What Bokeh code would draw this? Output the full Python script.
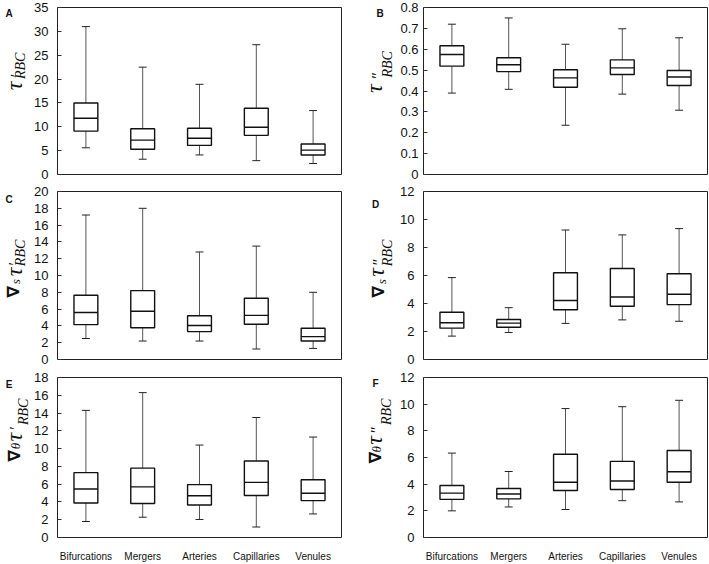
import math
from bokeh.plotting import figure
from bokeh.models import (Range1d, FactorRange, FixedTicker, Label,
                          CustomJSTickFormatter, ColumnDataSource)
from bokeh.layouts import gridplot
from bokeh.transform import dodge
from bokeh.embed import file_html
from bokeh.resources import INLINE

categories = ["Bifurcations", "Mergers", "Arteries", "Capillaries", "Venules"]

# Panel A: tau'_RBC
a_min = [5.6, 3.2, 4.1, 2.9, 2.3]
a_q1 = [9.1, 5.3, 6.1, 8.2, 4.1]
a_med = [11.8, 7.2, 7.6, 9.9, 5.1]
a_q3 = [15.0, 9.6, 9.7, 13.9, 6.4]
a_max = [31.0, 22.5, 18.9, 27.2, 13.4]
a_ticks = [0, 5, 10, 15, 20, 25, 30, 35]

# Panel B: tau''_RBC
b_min = [0.39, 0.408, 0.236, 0.385, 0.308]
b_q1 = [0.519, 0.493, 0.418, 0.479, 0.426]
b_med = [0.575, 0.526, 0.463, 0.511, 0.467]
b_q3 = [0.617, 0.559, 0.502, 0.549, 0.498]
b_max = [0.72, 0.75, 0.624, 0.698, 0.655]
b_ticks = [0, 0.1, 0.2, 0.3, 0.4, 0.5, 0.6, 0.7, 0.8]

# Panel C: grad_s tau'_RBC
c_min = [2.5, 2.2, 2.2, 1.25, 1.32]
c_q1 = [4.15, 3.78, 3.32, 4.2, 2.2]
c_med = [5.6, 5.75, 4.05, 5.25, 2.72]
c_q3 = [7.65, 8.2, 5.2, 7.3, 3.72]
c_max = [17.2, 18.0, 12.8, 13.5, 8.0]
c_ticks = [0, 2, 4, 6, 8, 10, 12, 14, 16, 18, 20]

# Panel D: grad_s tau''_RBC
d_min = [1.67, 1.93, 2.58, 2.83, 2.73]
d_q1 = [2.24, 2.3, 3.55, 3.8, 3.92]
d_med = [2.62, 2.6, 4.21, 4.46, 4.66]
d_q3 = [3.38, 2.86, 6.2, 6.5, 6.12]
d_max = [5.85, 3.7, 9.25, 8.9, 9.35]
d_ticks = [0, 2, 4, 6, 8, 10, 12]

# Panel E: grad_theta tau'_RBC
e_min = [1.8, 2.28, 2.03, 1.18, 2.65]
e_q1 = [3.88, 3.82, 3.66, 4.72, 4.15]
e_med = [5.45, 5.7, 4.7, 6.2, 4.98]
e_q3 = [7.3, 7.8, 5.95, 8.6, 6.5]
e_max = [14.3, 16.3, 10.4, 13.5, 11.3]
e_ticks = [0, 2, 4, 6, 8, 10, 12, 14, 16, 18]

# Panel F: grad_theta tau''_RBC
f_min = [2.0, 2.29, 2.1, 2.76, 2.67]
f_q1 = [2.86, 2.9, 3.52, 3.6, 4.14]
f_med = [3.33, 3.26, 4.14, 4.24, 4.93]
f_q3 = [3.9, 3.67, 6.24, 5.71, 6.52]
f_max = [6.33, 4.95, 9.67, 9.81, 10.29]
f_ticks = [0, 2, 4, 6, 8, 10, 12]

SERIF = "Liberation Serif"
SANS = "Liberation Sans"
NABLA_FONT = "DejaVu Sans"

# layout (page pixels)
LAB_COLS = [dict(width=31, x0=0), dict(width=39, x0=358)]
MAIN_COLS = [dict(width=327, min_border_left=24, min_border_right=17),
             dict(width=312, min_border_left=25, min_border_right=2)]
ROWS = [
    dict(height=182, y0=0, min_border_top=7, min_border_bottom=8),
    dict(height=186, y0=182, min_border_top=9, min_border_bottom=9),
    dict(height=196, y0=368, min_border_top=9, min_border_bottom=21),
]

# rotated y-label pieces: ((text, font, size, style), page_x of middle, page_y of centre)
TAU = ("τ", SERIF, 24, "italic")
RBC = ("RBC", SERIF, 14, "italic")
P1 = ("′", SERIF, 16, "normal")
P2 = ("″", SERIF, 16, "normal")
NAB = ("∇", NABLA_FONT, 17, "bold")
SUB_S = ("s", SERIF, 13, "italic")
SUB_T = ("θ", SERIF, 13, "italic")

LBL_A = [(TAU, 13.4, 85.5), (P1, 15.7, 74), (RBC, 20, 63.5)]
LBL_B = [(TAU, 373.4, 88.5), (P2, 376.7, 74), (RBC, 387, 62)]
LBL_C = [(NAB, 12.6, 293), (SUB_S, 15.3, 282), (TAU, 13.3, 271), (P1, 14.2, 262), (RBC, 20, 250)]
LBL_D = [(NAB, 377.3, 293), (SUB_S, 381.1, 282), (TAU, 375.4, 271.5), (P2, 378.2, 260), (RBC, 387, 250)]
LBL_E = [(NAB, 13.3, 464), (SUB_T, 15, 452), (TAU, 13.3, 441), (P1, 15.2, 430), (RBC, 23, 410)]
LBL_F = [(NAB, 374.3, 466), (SUB_T, 376, 456), (TAU, 373.4, 445), (P2, 376.2, 432), (RBC, 386, 410)]

BOX_W = 0.42
CAP_W = 0.14


def label_panel(col, row, letter, letter_xy, pieces):
    c = LAB_COLS[col]
    r = ROWS[row]
    w, h = c["width"], r["height"]
    p = figure(width=w, height=h, x_range=Range1d(0, w), y_range=Range1d(0, h),
               x_axis_type=None, y_axis_type=None, min_border=0,
               min_border_left=0, min_border_right=0, min_border_top=0, min_border_bottom=0,
               output_backend="svg", toolbar_location=None, tools="")
    p.outline_line_color = None
    p.grid.visible = False
    p.background_fill_color = "white"
    p.border_fill_color = "white"
    for (text, font, size, style), px, py in pieces:
        p.add_layout(Label(x=px - c["x0"], y=h - (py - r["y0"]),
                           text=text, angle=math.pi / 2, text_align="center",
                           text_baseline="middle", text_font=font,
                           text_font_size=f"{size}px", text_font_style=style,
                           text_color="#111111"))
    lx, ly = letter_xy
    p.add_layout(Label(x=lx - c["x0"], y=h - (ly - r["y0"]),
                       text=letter, text_align="center", text_baseline="middle",
                       text_font=SANS, text_font_size="10px",
                       text_font_style="bold", text_color="#111111"))
    return p


def make_panel(col, row, mins, q1, med, q3, maxs, ticks, standoff, show_x, decimal=False):
    c = MAIN_COLS[col]
    r = ROWS[row]
    p = figure(x_range=FactorRange(*categories), y_range=Range1d(ticks[0], ticks[-1]),
               width=c["width"], height=r["height"],
               min_border_left=c["min_border_left"], min_border_right=c["min_border_right"],
               min_border_top=r["min_border_top"], min_border_bottom=r["min_border_bottom"],
               output_backend="svg", toolbar_location=None, tools="")
    p.background_fill_color = "white"
    p.border_fill_color = "white"
    p.outline_line_color = "#222222"
    p.outline_line_width = 1
    p.grid.visible = False

    src = ColumnDataSource(dict(cat=categories, lo=mins, q1=q1, med=med, q3=q3, hi=maxs))
    # whiskers
    p.segment(x0="cat", y0="q3", x1="cat", y1="hi", source=src, line_color="#555555", line_width=1)
    p.segment(x0="cat", y0="lo", x1="cat", y1="q1", source=src, line_color="#555555", line_width=1)
    # caps
    for key in ("hi", "lo"):
        p.segment(x0=dodge("cat", -CAP_W / 2, range=p.x_range), y0=key,
                  x1=dodge("cat", CAP_W / 2, range=p.x_range), y1=key,
                  source=src, line_color="#222222", line_width=1)
    # boxes
    p.vbar(x="cat", bottom="q1", top="q3", width=BOX_W, source=src,
           fill_color="white", line_color="#111111", line_width=1.4)
    # medians
    p.segment(x0=dodge("cat", -BOX_W / 2, range=p.x_range), y0="med",
              x1=dodge("cat", BOX_W / 2, range=p.x_range), y1="med",
              source=src, line_color="#111111", line_width=1.4)

    yax = p.yaxis[0]
    yax.ticker = FixedTicker(ticks=ticks)
    yax.axis_line_color = None
    yax.major_tick_in = 4
    yax.major_tick_out = 0
    yax.minor_tick_line_color = None
    yax.major_tick_line_color = "#333333"
    yax.major_label_standoff = standoff
    yax.major_label_text_font = SANS
    yax.major_label_text_font_size = "13px"
    yax.major_label_text_color = "#111111"
    if decimal:
        yax.formatter = CustomJSTickFormatter(
            code="return Math.abs(tick) < 1e-9 ? '0' : tick.toFixed(1);")

    xax = p.xaxis[0]
    if show_x:
        xax.axis_line_color = None
        xax.major_tick_line_color = None
        xax.minor_tick_line_color = None
        xax.major_label_standoff = 7
        xax.major_label_text_font = SANS
        xax.major_label_text_font_size = "10px"
        xax.major_label_text_color = "#111111"
    else:
        xax.visible = False
    return p


la = label_panel(0, 0, "A", (8.5, 7), LBL_A)
lb = label_panel(1, 0, "B", (379.5, 7), LBL_B)
lc = label_panel(0, 1, "C", (8.5, 191), LBL_C)
ld = label_panel(1, 1, "D", (375, 196), LBL_D)
le = label_panel(0, 2, "E", (8.5, 377), LBL_E)
lf = label_panel(1, 2, "F", (375, 375), LBL_F)

pa = make_panel(0, 0, a_min, a_q1, a_med, a_q3, a_max, a_ticks, 9, False)
pb = make_panel(1, 0, b_min, b_q1, b_med, b_q3, b_max, b_ticks, 5, False, decimal=True)
pc = make_panel(0, 1, c_min, c_q1, c_med, c_q3, c_max, c_ticks, 9, False)
pd = make_panel(1, 1, d_min, d_q1, d_med, d_q3, d_max, d_ticks, 9, False)
pe = make_panel(0, 2, e_min, e_q1, e_med, e_q3, e_max, e_ticks, 9, True)
pf = make_panel(1, 2, f_min, f_q1, f_med, f_q3, f_max, f_ticks, 9, True)

grid = gridplot([[la, pa, lb, pb], [lc, pc, ld, pd], [le, pe, lf, pf]],
                toolbar_location=None)

open("out.html", "w").write(file_html(grid, INLINE))
